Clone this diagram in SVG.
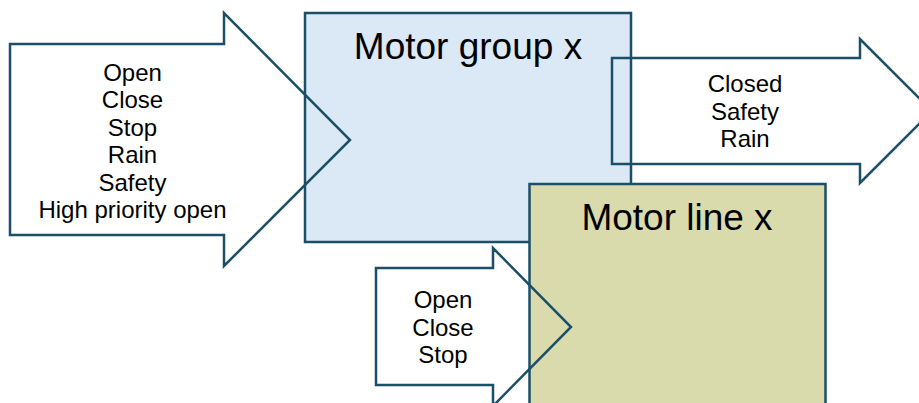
<svg xmlns="http://www.w3.org/2000/svg" width="919" height="403" viewBox="0 0 919 403">
<style>
.box{stroke:#1b4f68;stroke-width:2.5}
.arrow{fill:none;stroke:#1b4f68;stroke-width:2.5;stroke-linejoin:miter}
.title{font-family:"Liberation Sans",Arial,sans-serif;font-size:37px;fill:#000;text-anchor:middle}
.lbl{font-family:"Liberation Sans",Arial,sans-serif;font-size:24px;fill:#000;text-anchor:middle}
</style>
<rect width="919" height="403" fill="#fff"/>
<g id="motor-group">
<rect class="box" x="305" y="13" width="326" height="229" fill="#dbe8f6"/>
<text class="title" x="468" y="58.5">Motor group x</text>
</g>
<g id="motor-line">
<rect class="box" x="529.5" y="184" width="296" height="240" fill="#d9dbac"/>
<text class="title" x="677" y="229.5">Motor line x</text>
</g>
<g id="connectors">
<g id="arrow-in-group">
<polygon class="arrow" points="10,44 224,44 224,13 350,140 224,266 224,235 10,235"/>
<text class="lbl" x="132.5" y="80.5">Open</text>
<text class="lbl" x="132.5" y="108">Close</text>
<text class="lbl" x="132.5" y="135.5">Stop</text>
<text class="lbl" x="132.5" y="163">Rain</text>
<text class="lbl" x="132.5" y="190.5">Safety</text>
<text class="lbl" x="132.5" y="218">High priority open</text>
</g>
<g id="arrow-out-group">
<polygon class="arrow" points="612,58 860,58 860,39 932,111 860,183 860,164 612,164"/>
<text class="lbl" x="745" y="92">Closed</text>
<text class="lbl" x="745" y="119.5">Safety</text>
<text class="lbl" x="745" y="147">Rain</text>
</g>
<g id="arrow-in-line">
<polygon class="arrow" points="376,268 493,268 493,248 571,327 493,406 493,385 376,385"/>
<text class="lbl" x="443" y="308">Open</text>
<text class="lbl" x="443" y="335.5">Close</text>
<text class="lbl" x="443" y="363">Stop</text>
</g>
</g>
</svg>
